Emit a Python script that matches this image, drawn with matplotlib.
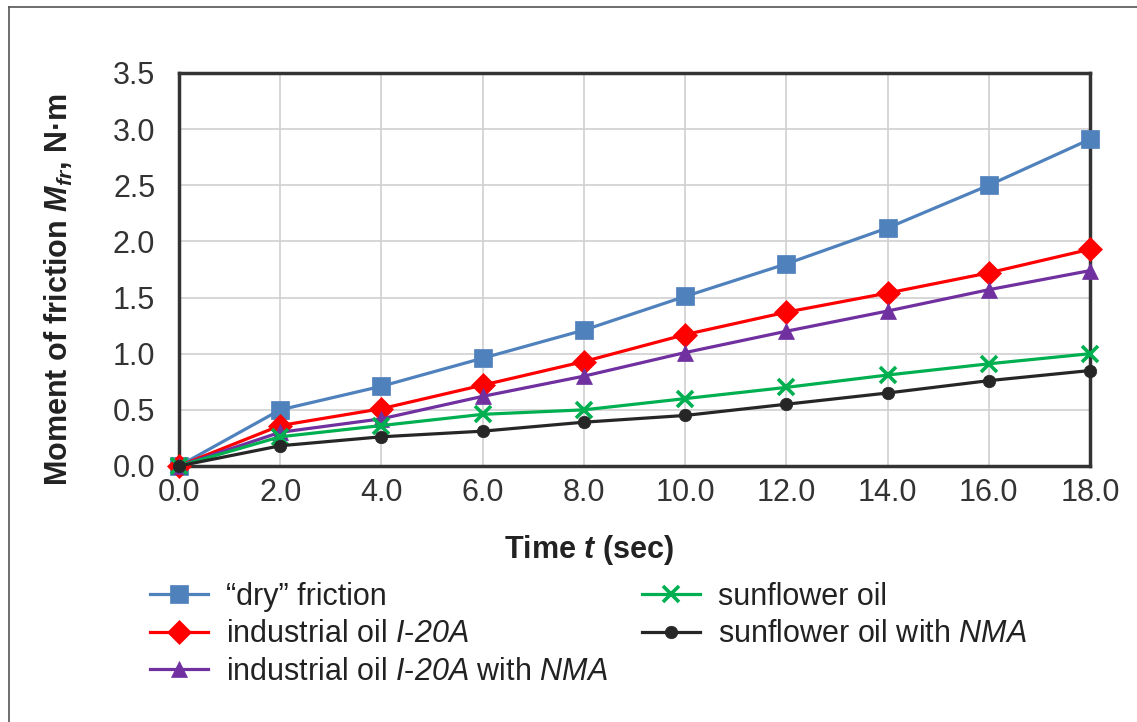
import matplotlib.pyplot as plt
from matplotlib.lines import Line2D

plt.rcParams['font.family'] = ['Liberation Sans', 'DejaVu Sans']
plt.rcParams['mathtext.fontset'] = 'custom'
plt.rcParams['mathtext.rm'] = 'Liberation Sans'
plt.rcParams['mathtext.it'] = 'Liberation Sans:italic'
plt.rcParams['mathtext.sf'] = 'Liberation Sans:italic'
plt.rcParams['mathtext.bf'] = 'Liberation Sans:bold'
plt.rcParams['mathtext.bfit'] = 'Liberation Sans:bold:italic'

# Data
time = [0, 2, 4, 6, 8, 10, 12, 14, 16, 18]
dry = [0.0, 0.50, 0.71, 0.96, 1.21, 1.51, 1.80, 2.12, 2.50, 2.91]
oil_i20a = [0.0, 0.36, 0.51, 0.72, 0.93, 1.17, 1.37, 1.54, 1.72, 1.93]
oil_i20a_nma = [0.0, 0.30, 0.42, 0.62, 0.80, 1.01, 1.20, 1.38, 1.57, 1.74]
sunflower = [0.0, 0.26, 0.36, 0.46, 0.50, 0.60, 0.70, 0.81, 0.91, 1.00]
sunflower_nma = [0.0, 0.18, 0.26, 0.31, 0.39, 0.45, 0.55, 0.65, 0.76, 0.85]

labels = ['\u201cdry\u201d friction',
          r'industrial oil $\mathsf{I}$-$\mathsf{20A}$',
          r'industrial oil $\mathsf{I}$-$\mathsf{20A}$ with $\mathsf{NMA}$',
          'sunflower oil',
          r'sunflower oil with $\mathsf{NMA}$']

series = [dry, oil_i20a, oil_i20a_nma, sunflower, sunflower_nma]
colors = ['#4F81BD', '#FF0000', '#7030A0', '#00B050', '#262626']
markers = ['s', 'D', '^', 'x', 'o']
msizes = [13, 12, 12, 12, 9]

fig = plt.figure(figsize=(11.37, 7.22), dpi=100)
ax = fig.add_axes([0.1574, 0.3546, 0.8013, 0.5443])

handles = []
for ys, c, m, ms, lab in zip(series, colors, markers, msizes, labels):
    line, = ax.plot(time, ys, color=c, marker=m, markersize=ms, lw=2.3,
                    markeredgewidth=2.6 if m == 'x' else 0.5,
                    markeredgecolor=c, clip_on=False, zorder=3, label=lab)
    handles.append(line)

yt = [0, 0.5, 1.0, 1.5, 2.0, 2.5, 3.0, 3.5]
ax.set_xlim(0, 18)
ax.set_ylim(0, 3.5)
ax.set_xticks(time)
ax.set_xticklabels([f'{t:.1f}' for t in time])
ax.set_yticks(yt)
ax.set_yticklabels([f'{v:.1f}' for v in yt])
ax.tick_params(labelsize=22, length=0, colors='#333333')
ax.tick_params(axis='y', pad=17)
ax.tick_params(axis='x', pad=9)
ax.grid(color='#D0D0D0', lw=1.2)
ax.set_axisbelow(True)
for s in ax.spines.values():
    s.set_linewidth(2.5)
    s.set_color('#333333')

ax.set_xlabel(r'Time $\mathbfit{t}$ (sec)', fontsize=22, fontweight='bold',
              color='#222222', labelpad=18, x=0.45)
ax.set_ylabel(r'Moment of friction $\mathbfit{M}_{\mathbfit{fr}}$, N·m', fontsize=22,
              fontweight='bold', color='#222222', labelpad=27, y=0.45)

# Legend (two columns, below the plot)
fig.legend(handles, labels,
           loc='upper left', bbox_to_anchor=(0.132, 0.194), ncol=2,
           frameon=False, fontsize=22, handlelength=1.9, handletextpad=0.6,
           columnspacing=1.1, labelspacing=0.24, borderpad=0, borderaxespad=0,
           labelcolor='#222222')

# Outer frame (left and top edges)
fig.add_artist(Line2D([0.008, 0.008], [0, 0.99], color='#555555', lw=1.2))
fig.add_artist(Line2D([0.008, 1.0], [0.99, 0.99], color='#555555', lw=1.2))

fig.savefig('out.png', dpi=100, facecolor='white')
